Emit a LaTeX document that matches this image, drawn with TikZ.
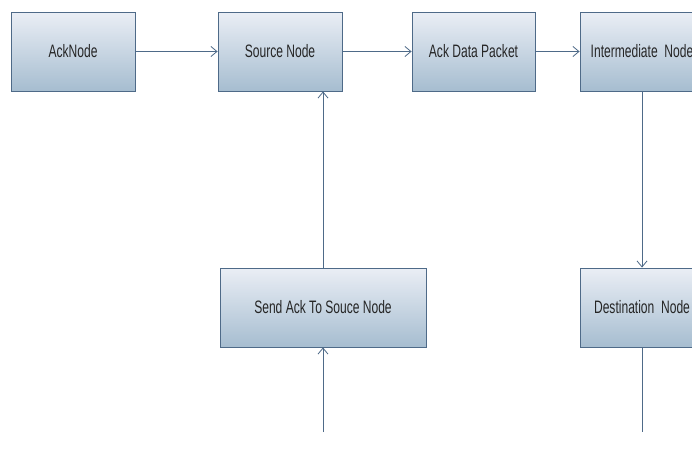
\documentclass[tikz,border=0pt]{standalone}
\usepackage{fontspec}
\setmainfont{Liberation Sans}[FakeStretch=0.67]
\usetikzlibrary{arrows.meta}
\definecolor{boxtop}{RGB}{234,238,245}
\definecolor{boxbot}{RGB}{166,189,208}
\definecolor{edge}{RGB}{78,106,136}
\tikzset{
  flowbox/.style={draw=edge, line width=0.9pt, top color=boxtop, bottom color=boxbot,
    minimum height=79pt, inner sep=0pt, font=\fontsize{18}{20}\selectfont, text=black!85},
  link/.style={draw=edge, line width=0.9pt, -{Straight Barb[length=6pt,width=10pt,line width=0.8pt]}},
  plain/.style={draw=edge, line width=0.9pt}
}
\begin{document}
\begin{tikzpicture}[x=1pt,y=-1pt]
  \useasboundingbox (0,0) rectangle (692,461);
  \clip (0,0) rectangle (692,461);
  \fill[white] (0,0) rectangle (692,461);
  % top row
  \node[flowbox, minimum width=124pt] (ack)   at (73,51.5)    {AckNode};
  \node[flowbox, minimum width=124pt] (src)   at (280,51.5)   {Source Node};
  \node[flowbox, minimum width=123pt] (pkt)   at (473.5,51.5) {Ack Data Packet};
  \node[flowbox, minimum width=124pt] (mid)   at (642,51.5)   {Intermediate\ \ Node};
  % bottom row
  \node[flowbox, minimum width=206pt] (send)  at (323,307.5)  {Send Ack To Souce Node};
  \node[flowbox, minimum width=124pt] (dest)  at (642,307.5)  {Destination\ \ Node};
  % loose ends of the vertical lines
  \coordinate (sendin)  at (323,432);
  \coordinate (destout) at (642,432);
  % connectors
  \draw[link] (ack) -- (src);
  \draw[link] (src) -- (pkt);
  \draw[link] (pkt) -- (mid);
  \draw[link] (mid) -- (dest);
  \draw[link] (send.north) -- (send.north |- src.south);
  \draw[link] (sendin) -- (send.south);
  \draw[plain] (dest.south) -- (destout);
\end{tikzpicture}
\end{document}
